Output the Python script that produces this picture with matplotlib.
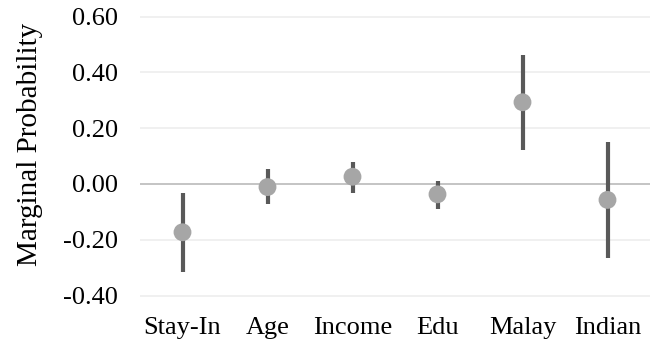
import matplotlib.pyplot as plt

# Marginal effects with confidence intervals
labels = ["Stay-In", "Age", "Income", "Edu", "Malay", "Indian"]
estimate = [-0.173, -0.011, 0.026, -0.037, 0.293, -0.057]
lower = [-0.317, -0.072, -0.031, -0.091, 0.123, -0.266]
upper = [-0.031, 0.053, 0.078, 0.012, 0.463, 0.150]
yticks = [-0.40, -0.20, 0.00, 0.20, 0.40, 0.60]

plt.rcParams['font.family'] = ['Liberation Serif', 'DejaVu Serif']

W, H = 660, 345
fig = plt.figure(figsize=(W / 100, H / 100), dpi=100)
ymin, ymax = -0.41, 0.61
px_per_unit = 279
top_px = 184 - ymax * px_per_unit
bot_px = 184 - ymin * px_per_unit
ax = fig.add_axes([140 / W, (H - bot_px) / H, 510 / W, (bot_px - top_px) / H])

x = list(range(len(labels)))
for t in yticks:
    if t == 0:
        ax.axhline(t, color='#bfbfbf', lw=1.3, zorder=1)
    else:
        ax.axhline(t, color='#efefef', lw=1.3, zorder=1)

ax.vlines(x, lower, upper, color='#595959', lw=3, zorder=2)
ax.scatter(x, estimate, s=165, color='#a6a6a6', edgecolors='none', zorder=3)

ax.set_xlim(-0.5, len(labels) - 0.5)
ax.set_ylim(ymin, ymax)
ax.set_xticks(x)
ax.set_xticklabels(labels, fontsize=19)
ax.set_yticks(yticks)
ax.set_yticklabels([f"{t:.2f}" for t in yticks], fontsize=19)
ax.tick_params(length=0, pad=13.5, axis='x')
ax.tick_params(length=0, pad=16, axis='y', colors='black')
for s in ax.spines.values():
    s.set_visible(False)
ax.set_ylabel("Marginal Probability", fontsize=21)
ax.yaxis.set_label_coords(-97 / 510, 0.54)

fig.savefig("out.png", dpi=100)
